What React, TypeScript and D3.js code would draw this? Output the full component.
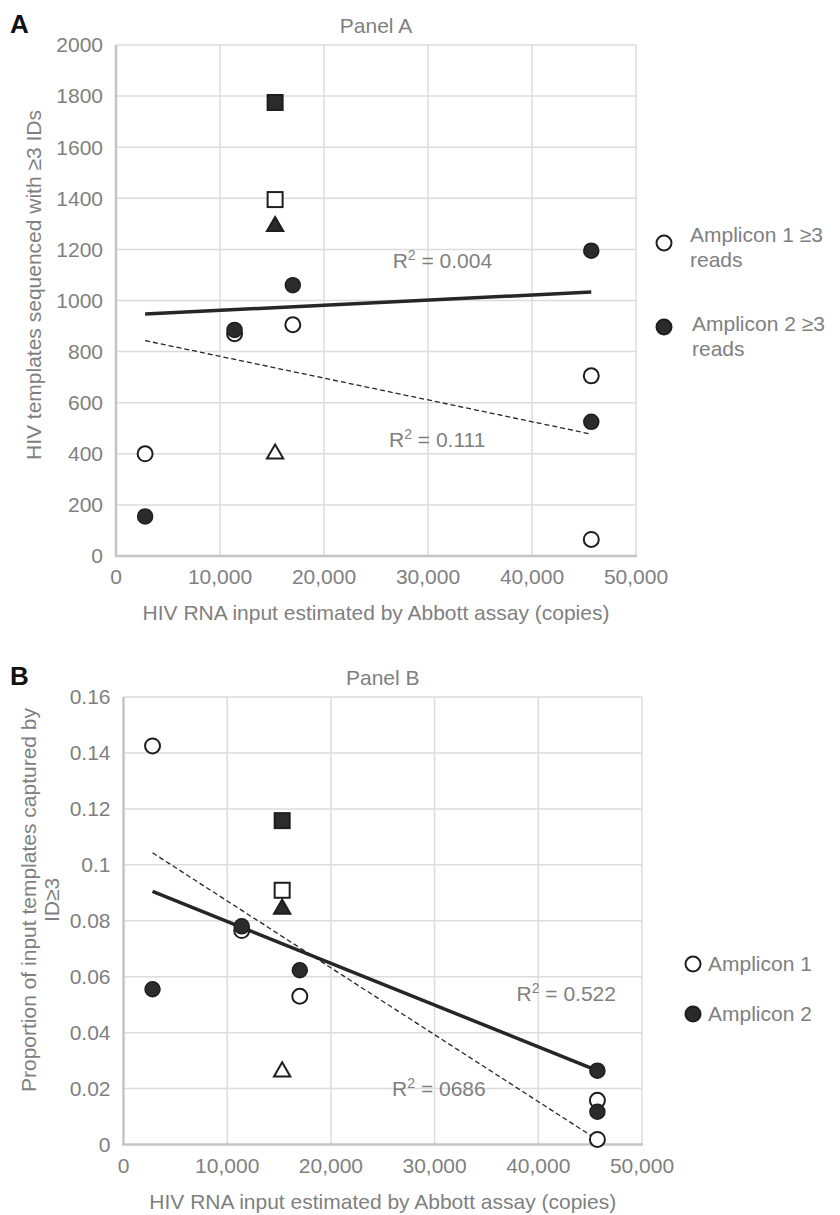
import React, { useEffect, useRef } from 'react';
import * as d3 from 'd3';

// shared x positions (HIV RNA copies) of the circle samples
const sampleX = [2800, 11400, 17000, 45700, 45700];
const controlX = 15300;
const trendX = [2800, 45700];

const xTicks = [0, 10000, 20000, 30000, 40000, 50000];

// Panel A
const yTicksA = [0, 200, 400, 600, 800, 1000, 1200, 1400, 1600, 1800, 2000];
const amp1A = [400, 870, 905, 705, 65];
const amp2A = [155, 885, 1060, 1195, 525];
const controlsA = [
  { shape: 'square', filled: true, y: 1775 },
  { shape: 'square', filled: false, y: 1395 },
  { shape: 'triangle', filled: true, y: 1290 },
  { shape: 'triangle', filled: false, y: 400 },
];
const solidA = [947, 1033];
const dashedA = [843, 477];
const r2A = [
  { x: 26600, y: 1127, value: '0.004' },
  { x: 26250, y: 427, value: '0.111' },
];

// Panel B
const yTicksB = [0, 0.02, 0.04, 0.06, 0.08, 0.1, 0.12, 0.14, 0.16];
const amp1B = [0.1425, 0.0765, 0.053, 0.0158, 0.0018];
const amp2B = [0.0555, 0.078, 0.0623, 0.0264, 0.0117];
const controlsB = [
  { shape: 'square', filled: true, y: 0.1158 },
  { shape: 'square', filled: false, y: 0.0909 },
  { shape: 'triangle', filled: true, y: 0.0842 },
  { shape: 'triangle', filled: false, y: 0.026 },
];
const solidB = [0.0905, 0.0264];
const dashedB = [0.1043, 0.0017];
const r2B = [
  { x: 37900, y: 0.0513, value: '0.522' },
  { x: 25900, y: 0.0173, value: '0686' },
];

const FONT = '"Liberation Sans", Arial, Helvetica, sans-serif';
const SIZE = 21;
const GREY = '#7f7f7f';
const DARK = '#2b2b2b';

const drawPanel = (svg, p) => {
  const x = d3.scaleLinear().domain([0, 50000]).range([p.left, p.right]);
  const y = d3.scaleLinear().domain([0, p.yMax]).range([p.bottom, p.top]);
  const g = svg.append('g');

  // grid
  g.selectAll('.hg').data(p.yTicks.slice(1)).enter().append('line')
    .attr('x1', p.left).attr('x2', p.right)
    .attr('y1', d => y(d)).attr('y2', d => y(d))
    .attr('stroke', '#dcdcdc').attr('stroke-width', 1.5);
  g.selectAll('.vg').data(xTicks.slice(1)).enter().append('line')
    .attr('y1', p.top).attr('y2', p.bottom)
    .attr('x1', d => x(d)).attr('x2', d => x(d))
    .attr('stroke', '#dcdcdc').attr('stroke-width', 1.5);

  // axis lines
  g.append('line').attr('x1', p.left).attr('x2', p.left).attr('y1', p.top).attr('y2', p.bottom + 1)
    .attr('stroke', '#c4c4c4').attr('stroke-width', 2.5);
  g.append('line').attr('x1', p.left - 1).attr('x2', p.right + 1).attr('y1', p.bottom).attr('y2', p.bottom)
    .attr('stroke', '#c4c4c4').attr('stroke-width', 2.5);

  // tick labels
  g.selectAll('.yl').data(p.yTicks).enter().append('text')
    .attr('x', p.left - 13).attr('y', d => y(d)).attr('dy', '0.35em')
    .attr('text-anchor', 'end').attr('fill', GREY)
    .style('font', `${SIZE}px ${FONT}`)
    .text(d => (p.yFormat ? p.yFormat(d) : d));
  g.selectAll('.xl').data(xTicks).enter().append('text')
    .attr('x', d => x(d)).attr('y', p.bottom + 28)
    .attr('text-anchor', 'middle').attr('fill', GREY)
    .style('font', `${SIZE}px ${FONT}`)
    .text(d => d3.format(',')(d));

  // titles
  const cx = (p.left + p.right) / 2;
  g.append('text').attr('x', cx).attr('y', p.top - 12).attr('text-anchor', 'middle')
    .attr('fill', GREY).style('font', `${SIZE}px ${FONT}`).text(p.title);
  g.append('text').attr('x', 10).attr('y', p.top - 12)
    .attr('fill', '#111').style('font', `bold 26px ${FONT}`).text(p.letter);
  g.append('text').attr('x', cx).attr('y', p.bottom + 64).attr('text-anchor', 'middle')
    .attr('fill', GREY).style('font', `${SIZE}px ${FONT}`)
    .text('HIV RNA input estimated by Abbott assay (copies)');
  p.yTitle.forEach(line => {
    g.append('text')
      .attr('transform', `translate(${line.x},${p.yTitleCenter}) rotate(-90)`)
      .attr('text-anchor', 'middle').attr('fill', GREY)
      .style('font', `${SIZE}px ${FONT}`).text(line.text);
  });

  // trend lines
  const line = d3.line().x(d => x(d[0])).y(d => y(d[1]));
  g.append('path').datum(trendX.map((v, i) => [v, p.solid[i]])).attr('d', line)
    .attr('fill', 'none').attr('stroke', '#262626').attr('stroke-width', 3.5);
  g.append('path').datum(trendX.map((v, i) => [v, p.dashed[i]])).attr('d', line)
    .attr('fill', 'none').attr('stroke', '#262626').attr('stroke-width', 1.3)
    .attr('stroke-dasharray', '5,3');

  // control markers
  p.controls.forEach(c => {
    if (c.shape === 'square') {
      g.append('rect').attr('x', x(controlX) - 7.5).attr('y', y(c.y) - 7.5)
        .attr('width', 15).attr('height', 15)
        .attr('fill', c.filled ? DARK : '#fff').attr('stroke', '#1e1e1e').attr('stroke-width', 2);
    } else {
      g.append('path').attr('d', d3.symbol(d3.symbolTriangle, 115)())
        .attr('transform', `translate(${x(controlX)},${y(c.y)})`)
        .attr('fill', c.filled ? DARK : '#fff').attr('stroke', '#1e1e1e').attr('stroke-width', 2);
    }
  });

  // circles: amplicon 1 open, amplicon 2 filled
  g.selectAll('.a1').data(p.amp1).enter().append('circle')
    .attr('cx', (d, i) => x(sampleX[i])).attr('cy', d => y(d)).attr('r', 7.5)
    .attr('fill', '#fff').attr('stroke', '#1e1e1e').attr('stroke-width', 2);
  g.selectAll('.a2').data(p.amp2).enter().append('circle')
    .attr('cx', (d, i) => x(sampleX[i])).attr('cy', d => y(d)).attr('r', 7.5)
    .attr('fill', DARK).attr('stroke', '#1e1e1e').attr('stroke-width', 1.5);

  // R² labels
  p.r2.forEach(r => {
    const t = g.append('text').attr('x', x(r.x)).attr('y', y(r.y))
      .attr('fill', GREY).style('font', `${SIZE}px ${FONT}`);
    t.append('tspan').text('R');
    t.append('tspan').attr('dy', -8).style('font-size', '14px').text('2');
    t.append('tspan').attr('dy', 8).text(` = ${r.value}`);
  });

  // legend
  p.legend.forEach(l => {
    g.append('circle').attr('cx', l.cx).attr('cy', l.cy).attr('r', 7.5)
      .attr('fill', l.filled ? DARK : '#fff').attr('stroke', '#1e1e1e').attr('stroke-width', 2);
    l.lines.forEach((s, i) => {
      g.append('text').attr('x', l.tx).attr('y', l.ty + i * 25)
        .attr('fill', GREY).style('font', `${SIZE}px ${FONT}`).text(s);
    });
  });
};

const App = () => {
  const ref = useRef(null);

  useEffect(() => {
    document.body.style.margin = '0';
    const svg = d3.select(ref.current).attr('width', 840).attr('height', 1215);
    svg.selectAll('*').remove();
    svg.append('rect').attr('width', 840).attr('height', 1215).attr('fill', '#fff');

    drawPanel(svg, {
      left: 116, right: 636, top: 45, bottom: 556, yMax: 2000,
      yTicks: yTicksA, letter: 'A', title: 'Panel A',
      yTitle: [{ x: 41, text: 'HIV templates sequenced with \u22653 IDs' }],
      yTitleCenter: 285,
      amp1: amp1A, amp2: amp2A, controls: controlsA,
      solid: solidA, dashed: dashedA, r2: r2A,
      legend: [
        { cx: 664, cy: 243, filled: false, tx: 690, ty: 242, lines: ['Amplicon 1 \u22653', 'reads'] },
        { cx: 664, cy: 327, filled: true, tx: 692, ty: 331, lines: ['Amplicon 2 \u22653', 'reads'] },
      ],
    });

    drawPanel(svg, {
      left: 123.5, right: 642, top: 697, bottom: 1144.5, yMax: 0.16,
      yTicks: yTicksB, yFormat: d => (d === 0 ? '0' : String(+d.toFixed(2))),
      letter: 'B', title: 'Panel B',
      yTitle: [
        { x: 36, text: 'Proportion of input templates captured by' },
        { x: 59, text: 'ID\u22653' },
      ],
      yTitleCenter: 900,
      amp1: amp1B, amp2: amp2B, controls: controlsB,
      solid: solidB, dashed: dashedB, r2: r2B,
      legend: [
        { cx: 693, cy: 964, filled: false, tx: 708, ty: 971, lines: ['Amplicon 1'] },
        { cx: 693, cy: 1014, filled: true, tx: 708, ty: 1021, lines: ['Amplicon 2'] },
      ],
    });
  }, []);

  return <svg ref={ref}></svg>;
};

export default App;
